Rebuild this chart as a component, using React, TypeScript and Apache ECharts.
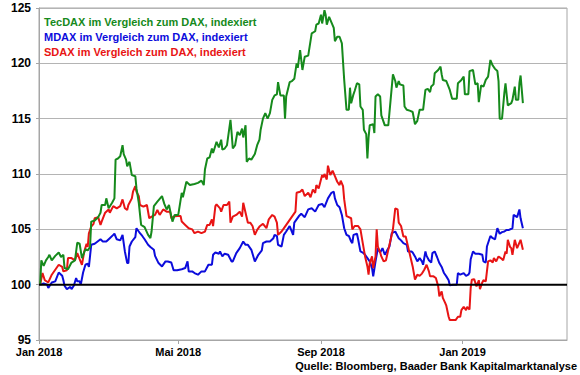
import React, { useEffect, useRef } from "react";
import * as echarts from "echarts";

// x = days since 1 Jan 2018, y = index value (DAX-relative, 100 = start)
const tecdax: [number, number][] = [
  [1, 100.0], [2, 102.2], [4, 101.7], [6, 102.2], [8, 102.5], [9, 102.7], [11, 102.2], [14, 102.6],
  [17, 102.9], [19, 102.5], [21, 102.7], [22, 101.5], [25, 101.4], [28, 102.0], [31, 102.2], [33, 103.8],
  [35, 103.7], [37, 102.4], [40, 103.2], [42, 103.1], [44, 103.4], [45, 105.7], [48, 105.8], [51, 106.1],
  [53, 106.5], [54, 107.2], [57, 107.2], [58, 107.8], [60, 106.9], [63, 107.4], [65, 107.8], [66, 111.3],
  [68, 111.4], [70, 111.6], [72, 112.6], [73, 111.8], [75, 111.3], [76, 110.7], [78, 111.1], [80, 109.9],
  [83, 109.8], [84, 108.7], [86, 107.4], [88, 105.4], [91, 105.2], [94, 104.5], [96, 104.2], [97, 104.8],
  [99, 107.1], [102, 107.5], [106, 108.0], [108, 107.3], [110, 106.8], [112, 107.2], [115, 105.7], [117, 106.3],
  [120, 106.3], [123, 108.3], [124, 107.9], [127, 109.3], [130, 109.0], [134, 109.1], [137, 109.2], [140, 109.4],
  [142, 109.0], [143, 110.4], [145, 111.4], [147, 111.5], [149, 112.3], [150, 111.9], [153, 112.9], [155, 112.4],
  [157, 113.1], [158, 112.2], [160, 112.3], [162, 112.6], [165, 114.9], [166, 113.7], [167, 112.3], [169, 112.6],
  [171, 113.8], [173, 113.5], [175, 114.1], [176, 113.3], [178, 114.4], [179, 111.1], [181, 111.4], [183, 111.3],
  [186, 111.8], [188, 112.6], [190, 113.1], [191, 114.0], [193, 115.0], [195, 115.5], [197, 115.0], [199, 115.5],
  [201, 116.7], [203, 117.1], [205, 117.2], [206, 118.3], [208, 117.1], [211, 117.1], [212, 115.0], [213, 117.0],
  [216, 118.3], [218, 118.4], [220, 118.6], [222, 120.0], [223, 119.6], [225, 121.2], [227, 119.4], [229, 120.6],
  [232, 120.7], [235, 122.7], [238, 122.9], [239, 123.5], [241, 123.6], [243, 124.4], [244, 123.6], [246, 124.8],
  [247, 124.4], [248, 123.5], [250, 124.2], [252, 123.7], [254, 123.2], [255, 122.0], [257, 122.4], [259, 122.4],
  [261, 121.8], [263, 118.5], [265, 115.8], [267, 115.8], [268, 117.8], [269, 116.4], [271, 117.2], [272, 117.5],
  [274, 118.2], [276, 118.1], [277, 116.1], [279, 115.8], [280, 114.0], [282, 113.6], [283, 111.4], [284, 113.3],
  [285, 114.4], [288, 114.5], [289, 113.7], [290, 117.0], [292, 117.2], [294, 117.0], [295, 115.3], [298, 114.4],
  [301, 114.4], [303, 116.7], [305, 119.0], [307, 118.4], [308, 117.8], [310, 118.4], [311, 118.1], [314, 118.0],
  [315, 116.1], [317, 115.8], [320, 115.7], [322, 115.6], [324, 114.5], [326, 114.8], [328, 115.8], [330, 115.8],
  [331, 115.8], [333, 117.6], [335, 117.7], [337, 117.4], [338, 117.9], [340, 118.1], [341, 119.1], [344, 119.4],
  [346, 119.7], [347, 119.0], [348, 118.5], [351, 118.4], [354, 117.6], [356, 116.8], [360, 116.8], [361, 118.2],
  [364, 118.5], [366, 118.8], [367, 117.2], [370, 117.2], [371, 119.3], [374, 119.4], [376, 118.1], [378, 118.2],
  [379, 116.5], [381, 118.0], [383, 117.9], [385, 118.5], [387, 118.8], [389, 120.3], [391, 119.8], [393, 119.5],
  [395, 119.3], [396, 118.4], [397, 115.0], [399, 115.0], [401, 117.3], [402, 118.2], [404, 116.2], [407, 116.4],
  [408, 116.7], [410, 117.9], [411, 116.7], [413, 116.7], [414, 118.2], [415, 118.9], [417, 116.4],
];

const mdax: [number, number][] = [
  [1, 100.0], [4, 100.1], [7, 100.0], [8, 99.7], [11, 100.2], [14, 100.3], [17, 101.1], [20, 100.8],
  [21, 100.4], [22, 99.9], [24, 99.6], [27, 99.8], [28, 99.6], [30, 99.9], [32, 100.6], [33, 100.3],
  [35, 100.3], [36, 100.0], [38, 101.1], [40, 101.8], [42, 101.9], [43, 101.6], [45, 103.6], [48, 103.7],
  [53, 104.1], [55, 103.9], [58, 103.9], [61, 104.2], [64, 104.5], [65, 104.6], [67, 104.1], [70, 104.0],
  [72, 104.5], [74, 103.0], [76, 101.95], [77, 101.95], [78, 103.45], [80, 103.9], [83, 104.3], [84, 105.1],
  [87, 104.65], [89, 104.4], [91, 104.1], [94, 103.6], [96, 103.4], [99, 103.15], [100, 102.6], [103, 101.95],
  [106, 101.65], [109, 102.1], [111, 102.1], [114, 102.0], [116, 101.3], [119, 101.3], [123, 101.4], [126, 101.5],
  [128, 102.1], [129, 101.2], [132, 101.2], [134, 101.05], [137, 100.9], [140, 101.2], [143, 101.2], [146, 101.8],
  [149, 101.8], [150, 102.7], [152, 102.9], [155, 102.8], [156, 103.0], [158, 102.55], [160, 102.8], [163, 102.7],
  [166, 102.1], [167, 102.1], [170, 102.85], [173, 103.3], [176, 103.9], [178, 103.6], [180, 103.6], [183, 103.15],
  [186, 102.1], [189, 102.7], [192, 103.1], [193, 103.75], [196, 103.9], [199, 103.9], [202, 104.2], [203, 104.5],
  [205, 104.4], [206, 103.6], [209, 103.45], [211, 104.5], [213, 104.8], [216, 105.3], [219, 104.5], [220, 105.6],
  [222, 105.9], [224, 106.2], [226, 106.4], [229, 106.1], [232, 106.8], [235, 106.9], [238, 106.6], [241, 107.2],
  [244, 107.3], [246, 107.0], [249, 107.8], [252, 108.3], [254, 108.4], [255, 107.8], [257, 107.2], [259, 107.0],
  [261, 106.3], [263, 105.1], [265, 104.5], [267, 104.4], [269, 103.9], [270, 103.75], [271, 104.5], [274, 104.6],
  [275, 104.1], [277, 103.0], [279, 102.9], [281, 102.7], [283, 102.4], [285, 102.1], [287, 101.5], [288, 100.75],
  [290, 102.1], [292, 103.3], [294, 102.9], [296, 103.3], [298, 102.7], [300, 103.1], [302, 103.45], [304, 104.65],
  [307, 104.8], [310, 104.2], [312, 104.0], [314, 103.75], [317, 103.6], [318, 103.0], [321, 103.0], [322, 102.9],
  [324, 102.55], [326, 102.1], [328, 102.4], [330, 102.1], [331, 101.8], [333, 103.0], [334, 102.6], [336, 102.2],
  [338, 102.0], [339, 102.85], [341, 103.0], [343, 102.5], [345, 101.95], [347, 101.6], [349, 101.05], [351, 100.75],
  [353, 100.4], [354, 99.95], [357, 100.0], [360, 100.0], [361, 101.05], [363, 100.9], [366, 101.05], [368, 100.8],
  [370, 100.9], [371, 101.1], [372, 102.3], [374, 103.0], [376, 102.8], [379, 102.8], [382, 102.7], [383, 102.1],
  [385, 102.0], [386, 103.45], [389, 104.4], [391, 104.2], [393, 104.1], [395, 105.1], [397, 104.6], [399, 104.75],
  [401, 104.8], [403, 104.95], [405, 104.95], [408, 105.1], [409, 106.3], [412, 106.1], [414, 106.8], [415, 106.0],
  [417, 105.1],
];

const sdax: [number, number][] = [
  [1, 100.0], [3, 101.05], [5, 100.4], [8, 100.2], [11, 100.9], [14, 101.35], [17, 101.8], [20, 101.6],
  [21, 101.2], [24, 101.3], [25, 102.4], [28, 102.4], [31, 102.2], [33, 102.85], [35, 102.3], [37, 101.8],
  [39, 103.0], [41, 103.7], [42, 103.4], [43, 104.65], [45, 105.25], [47, 105.5], [48, 106.0], [51, 106.1],
  [53, 105.4], [54, 105.7], [57, 106.5], [60, 106.8], [61, 106.5], [64, 107.1], [67, 106.9], [70, 107.1],
  [72, 107.7], [74, 106.9], [76, 106.75], [77, 107.2], [80, 107.8], [81, 108.4], [83, 108.9], [84, 108.4],
  [86, 108.0], [87, 107.2], [90, 107.05], [93, 107.2], [95, 106.0], [97, 106.15], [100, 106.3], [102, 106.75],
  [104, 106.3], [107, 106.8], [110, 106.6], [113, 106.6], [114, 106.0], [116, 106.15], [119, 106.2], [122, 106.2],
  [123, 105.7], [126, 105.4], [129, 105.1], [132, 105.0], [134, 104.65], [137, 104.8], [140, 104.65], [143, 104.8],
  [145, 105.4], [147, 105.4], [149, 105.9], [150, 105.3], [152, 107.1], [153, 107.25], [156, 106.9], [157, 106.6],
  [159, 107.2], [162, 107.2], [164, 107.5], [165, 105.6], [167, 106.15], [170, 106.3], [173, 106.6], [175, 106.15],
  [176, 107.4], [178, 106.5], [180, 105.6], [182, 105.6], [184, 105.3], [186, 104.5], [188, 104.95], [190, 105.25],
  [193, 105.5], [196, 105.1], [198, 105.9], [201, 106.3], [203, 106.15], [205, 105.6], [206, 104.5], [209, 104.8],
  [212, 105.25], [215, 105.7], [218, 106.15], [221, 106.6], [222, 108.3], [225, 108.4], [227, 108.6], [229, 108.0],
  [232, 108.3], [234, 107.9], [236, 108.6], [238, 108.3], [239, 109.0], [241, 108.7], [244, 109.9], [245, 109.7],
  [246, 110.0], [248, 109.5], [249, 110.75], [251, 109.9], [253, 110.3], [255, 109.8], [257, 109.3], [259, 109.0],
  [260, 109.4], [262, 108.9], [263, 107.7], [265, 106.2], [267, 106.1], [269, 106.0], [270, 105.0], [272, 105.3],
  [275, 105.3], [277, 105.0], [279, 103.75], [281, 102.55], [283, 101.65], [284, 100.9], [285, 101.95], [287, 102.55],
  [288, 101.5], [290, 102.55], [291, 105.0], [292, 103.45], [294, 102.9], [295, 102.55], [297, 102.1], [299, 102.2],
  [301, 103.15], [303, 104.05], [305, 105.0], [307, 106.9], [309, 106.8], [310, 105.6], [312, 105.3], [314, 104.35],
  [316, 104.35], [318, 103.45], [320, 102.55], [322, 101.65], [324, 100.45], [326, 100.9], [328, 100.8], [330, 101.0],
  [332, 101.35], [334, 101.8], [336, 101.2], [337, 100.75], [340, 100.75], [342, 100.6], [344, 99.85], [345, 98.95],
  [347, 99.4], [348, 98.8], [350, 98.35], [351, 98.1], [353, 97.1], [354, 96.8], [357, 96.8], [359, 96.8],
  [361, 97.1], [363, 97.1], [364, 97.7], [366, 98.0], [368, 97.7], [369, 98.0], [371, 97.75], [372, 99.7],
  [373, 100.45], [375, 100.5], [377, 99.85], [379, 100.4], [380, 99.6], [382, 100.2], [383, 100.4], [385, 100.3],
  [387, 102.1], [389, 102.2], [391, 102.0], [392, 102.4], [394, 102.1], [396, 102.55], [398, 102.4], [400, 102.2],
  [402, 103.0], [403, 102.8], [404, 104.05], [406, 103.4], [407, 103.3], [408, 102.7], [410, 104.05], [412, 103.3],
  [414, 103.8], [415, 104.05], [417, 103.15],
];

const seriesNames = [
  "TecDAX im Vergleich zum DAX, indexiert",
  "MDAX im Vergleich zum DAX, indexiert",
  "SDAX im Vergleich zum DAX, indexiert",
];
const xTickDays = [0, 120, 243, 365];
const xTickLabels = ["Jan 2018", "Mai 2018", "Sep 2018", "Jan 2019"];
const xMin = 0;
const xMax = 455;
const yMin = 95;
const yMax = 125;
const yInterval = 5;
const baseline = 100;
const sourceText = "Quelle: Bloomberg, Baader Bank Kapitalmarktanalyse";

const GREEN = "#168a1c";
const BLUE = "#0c0cdc";
const RED = "#e81414";
const FONT = '"Liberation Sans", Arial, sans-serif';

export default function App() {
  const ref = useRef<HTMLDivElement>(null);
  useEffect(() => {
    if (!ref.current) return;
    const chart = echarts.init(ref.current, undefined, { renderer: "svg" });
    const lineSeries = (name: string, data: [number, number][], color: string, z: number) => ({
      name,
      type: "line",
      data,
      showSymbol: false,
      symbol: "none",
      z,
      lineStyle: { color, width: 2 },
      itemStyle: { color },
    });
    chart.setOption({
      animation: false,
      textStyle: { fontFamily: FONT },
      grid: {
        left: 39,
        right: 13,
        top: 8,
        bottom: 35,
        show: true,
        borderColor: "#a6a6a6",
        borderWidth: 1,
        backgroundColor: "transparent",
      },
      xAxis: {
        type: "value",
        min: xMin,
        max: xMax,
        splitLine: { show: false },
        axisLine: { show: true, lineStyle: { color: "#a6a6a6", width: 1 } },
        axisTick: {
          show: true,
          customValues: xTickDays,
          length: 4,
          lineStyle: { color: "#a6a6a6" },
        },
        axisLabel: {
          customValues: xTickDays,
          formatter: (v: number) => {
            const i = xTickDays.indexOf(Math.round(v));
            return i >= 0 ? xTickLabels[i] : "";
          },
          color: "#000",
          fontFamily: FONT,
          fontWeight: "bold",
          fontSize: 11,
          margin: 6,
          hideOverlap: false,
        },
      },
      yAxis: {
        type: "value",
        min: yMin,
        max: yMax,
        interval: yInterval,
        splitLine: { show: true, lineStyle: { color: "#b4b4b4", width: 1 } },
        axisLine: { show: true, lineStyle: { color: "#a6a6a6", width: 1 } },
        axisTick: { show: true, length: 3, lineStyle: { color: "#a6a6a6" } },
        axisLabel: {
          color: "#000",
          fontFamily: FONT,
          fontWeight: "bold",
          fontSize: 12,
          margin: 8,
        },
      },
      series: [
        lineSeries(seriesNames[1], mdax, BLUE, 2),
        lineSeries(seriesNames[2], sdax, RED, 3),
        lineSeries(seriesNames[0], tecdax, GREEN, 4),
        {
          type: "line",
          data: [
            [xMin, baseline],
            [xMax, baseline],
          ],
          showSymbol: false,
          symbol: "none",
          z: 5,
          silent: true,
          lineStyle: { color: "#000", width: 2 },
        },
      ],
      graphic: [
        {
          type: "text",
          left: 44,
          top: 16,
          style: { text: seriesNames[0], fill: GREEN, font: `bold 11px ${FONT}` },
        },
        {
          type: "text",
          left: 44,
          top: 31,
          style: { text: seriesNames[1], fill: BLUE, font: `bold 11px ${FONT}` },
        },
        {
          type: "text",
          left: 44,
          top: 46.5,
          style: { text: seriesNames[2], fill: RED, font: `bold 11px ${FONT}` },
        },
        {
          type: "text",
          right: 3,
          top: 360,
          style: { text: sourceText, fill: "#000", font: `bold 11px ${FONT}` },
        },
      ],
    });
    return () => chart.dispose();
  }, []);
  return (
    <div
      ref={ref}
      style={{ position: "fixed", left: 0, top: 0, width: 580, height: 375, background: "#fff" }}
    />
  );
}
